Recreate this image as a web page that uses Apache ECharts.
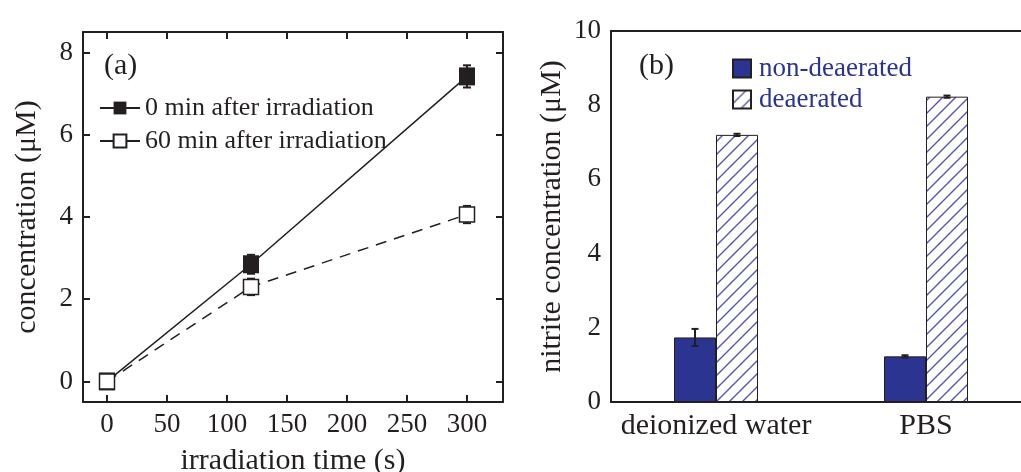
<!DOCTYPE html>
<html><head><meta charset="utf-8">
<script src="https://cdn.jsdelivr.net/npm/echarts@6/dist/echarts.min.js"></script>
<style>html,body{margin:0;padding:0;background:#fff}#c{width:1021px;height:472px}</style>
</head><body><div id="c"></div>
<script>
// ---- data (panel a) ----
const timeX = [0, 120, 300];
const conc0min = [0, 2.85, 7.42];
const conc0minErr = [0.05, 0.23, 0.27];
const conc60min = [0, 2.30, 4.06];
const conc60minErr = [0.05, 0.2, 0.21];
const xTicksA = [0, 50, 100, 150, 200, 250, 300];
const yTicksA = [0, 2, 4, 6, 8];
// ---- data (panel b) ----
const media = ['deionized water', 'PBS'];
const nonDeaerated = [1.74, 1.23];
const nonDeaeratedErr = [0.23, 0.03];
const deaerated = [7.20, 8.23];
const deaeratedErr = [0.03, 0.03];
const yTicksB = [0, 2, 4, 6, 8, 10];

const INK = '#231f20';
const BLUE = '#2b3491';
const FONT = 'Liberation Serif';

function hatch() {
  const s = 13;
  const c = document.createElement('canvas'); c.width = s; c.height = s;
  const g = c.getContext('2d');
  g.fillStyle = '#fff'; g.fillRect(0, 0, s, s);
  g.strokeStyle = '#5356b4'; g.lineWidth = 1.4;
  g.beginPath();
  g.moveTo(-2, s + 2); g.lineTo(s + 2, -2);
  g.moveTo(-2, 2); g.lineTo(2, -2);
  g.moveTo(s - 2, s + 2); g.lineTo(s + 2, s - 2);
  g.stroke();
  return c;
}
const hatchFill = { image: hatch(), repeat: 'repeat' };

function errRender(offsetFrac, capHalf) {
  return function (params, api) {
    const x = api.value(0), lo = api.value(1), hi = api.value(2);
    const p1 = api.coord([x, lo]), p2 = api.coord([x, hi]);
    const off = offsetFrac ? api.size([1, 0])[0] * offsetFrac : 0;
    const cx = p1[0] + off;
    const style = { stroke: INK, lineWidth: 2, fill: null };
    return { type: 'group', children: [
      { type: 'line', shape: { x1: cx, y1: p1[1], x2: cx, y2: p2[1] }, style },
      { type: 'line', shape: { x1: cx - capHalf, y1: p1[1], x2: cx + capHalf, y2: p1[1] }, style },
      { type: 'line', shape: { x1: cx - capHalf, y1: p2[1], x2: cx + capHalf, y2: p2[1] }, style }
    ]};
  };
}

const axisLine = { show: true, onZero: false, lineStyle: { color: INK, width: 2 } };
const tickStyle = { color: INK, width: 2 };
const labelBase = { color: INK, fontFamily: FONT, fontSize: 27 };
const nameStyle = { color: INK, fontFamily: FONT, fontSize: 30 };

const chart = echarts.init(document.getElementById('c'), null, { renderer: 'canvas' });
chart.setOption({
  animation: false,
  backgroundColor: '#fff',
  grid: [
    { left: 83, top: 32, width: 420, height: 370, containLabel: false, outerBoundsMode: 'none' },
    { left: 611, top: 31, width: 420, height: 371, containLabel: false, outerBoundsMode: 'none' }
  ],
  xAxis: [
    { type: 'value', gridIndex: 0, min: -20, max: 330, position: 'bottom',
      axisLine, splitLine: { show: false },
      axisTick: { inside: true, length: 7, lineStyle: tickStyle, customValues: xTicksA },
      axisLabel: Object.assign({ margin: 9, customValues: xTicksA }, labelBase),
      name: 'irradiation time (s)', nameLocation: 'middle', nameGap: 44, nameTextStyle: nameStyle },
    { type: 'value', gridIndex: 0, min: -20, max: 330, position: 'top',
      axisLine, splitLine: { show: false },
      axisTick: { inside: true, length: 7, lineStyle: tickStyle, customValues: xTicksA },
      axisLabel: { show: false } },
    { type: 'category', gridIndex: 1, data: media, position: 'bottom',
      axisLine, axisTick: { show: false }, splitLine: { show: false },
      axisLabel: Object.assign({ margin: 9, interval: 0, hideOverlap: false }, labelBase, { fontSize: 30 }) },
    { type: 'category', gridIndex: 1, data: media, position: 'top',
      axisLine, axisTick: { show: false }, axisLabel: { show: false }, splitLine: { show: false } }
  ],
  yAxis: [
    { type: 'value', gridIndex: 0, min: -0.5, max: 8.5, position: 'left',
      axisLine, splitLine: { show: false },
      axisTick: { inside: true, length: 7, lineStyle: tickStyle, customValues: yTicksA },
      axisLabel: Object.assign({ margin: 10, customValues: yTicksA }, labelBase),
      name: 'concentration (\u03bcM)', nameLocation: 'middle', nameGap: 41, nameTextStyle: nameStyle },
    { type: 'value', gridIndex: 0, min: -0.5, max: 8.5, position: 'right',
      axisLine, splitLine: { show: false },
      axisTick: { inside: true, length: 7, lineStyle: tickStyle, customValues: yTicksA },
      axisLabel: { show: false } },
    { type: 'value', gridIndex: 1, min: 0, max: 10, interval: 2, position: 'left',
      axisLine, splitLine: { show: false },
      axisTick: { inside: true, length: 7, lineStyle: tickStyle },
      axisLabel: Object.assign({ margin: 10, customValues: yTicksB }, labelBase),
      name: 'nitrite concentration (\u03bcM)', nameLocation: 'middle', nameGap: 44, nameTextStyle: nameStyle }
  ],
  legend: [
    { data: ['0 min after irradiation'], left: 94, top: 90, orient: 'vertical',
      itemWidth: 40, itemHeight: 16, itemGap: 0,
      textStyle: { color: INK, fontFamily: FONT, fontSize: 26, lineHeight: 26 } },
    { data: ['60 min after irradiation'], left: 94, top: 123, orient: 'vertical',
      itemWidth: 40, itemHeight: 16, itemGap: 0, lineStyle: { type: 'solid' },
      textStyle: { color: INK, fontFamily: FONT, fontSize: 26, lineHeight: 26 } },
    { data: ['non-deaerated', 'deaerated'], left: 727, top: 50, orient: 'vertical', icon: 'rect',
      itemWidth: 18, itemHeight: 18, itemGap: 4,
      textStyle: { color: BLUE, fontFamily: FONT, fontSize: 27, lineHeight: 26, padding: [0, 0, 0, 3] } }
  ],
  graphic: [
    { type: 'text', left: 104, top: 51, style: { text: '(a)', font: '30px "Liberation Serif"', fill: INK } },
    { type: 'text', left: 639, top: 51, style: { text: '(b)', font: '30px "Liberation Serif"', fill: INK } }
  ],
  series: [
    { type: 'custom', name: 'err0', xAxisIndex: 0, yAxisIndex: 0, z: 1,
      renderItem: errRender(0, 4),
      data: timeX.map((t, i) => [t, conc0min[i] - conc0minErr[i], conc0min[i] + conc0minErr[i]]) },
    { type: 'custom', name: 'err60', xAxisIndex: 0, yAxisIndex: 0, z: 1,
      renderItem: errRender(0, 4),
      data: timeX.map((t, i) => [t, conc60min[i] - conc60minErr[i], conc60min[i] + conc60minErr[i]]) },
    { type: 'line', name: '0 min after irradiation', xAxisIndex: 0, yAxisIndex: 0, z: 3,
      data: timeX.map((t, i) => [t, conc0min[i]]),
      symbol: 'rect', symbolSize: [16, 18],
      lineStyle: { color: INK, width: 1.5, type: 'solid' },
      itemStyle: { color: INK, borderColor: INK, borderWidth: 0 } },
    { type: 'line', name: '60 min after irradiation', xAxisIndex: 0, yAxisIndex: 0, z: 4,
      data: timeX.map((t, i) => [t, conc60min[i]]),
      symbol: 'rect', symbolSize: 15, showAllSymbol: true,
      lineStyle: { color: INK, width: 1.5, type: [11, 8] },
      itemStyle: { color: '#fff', borderColor: INK, borderWidth: 1.5 } },
    { type: 'bar', name: 'non-deaerated', xAxisIndex: 2, yAxisIndex: 2,
      data: nonDeaerated, barWidth: '20%', barGap: '0%',
      itemStyle: { color: BLUE, borderColor: INK, borderWidth: 1 } },
    { type: 'bar', name: 'deaerated', xAxisIndex: 2, yAxisIndex: 2,
      data: deaerated, barWidth: '20%', barGap: '0%',
      itemStyle: { color: hatchFill, borderColor: INK, borderWidth: 1 } },
    { type: 'custom', name: 'errB1', xAxisIndex: 2, yAxisIndex: 2, z: 5,
      renderItem: errRender(-0.1, 3.5),
      data: media.map((m, i) => [i, nonDeaerated[i] - nonDeaeratedErr[i], nonDeaerated[i] + nonDeaeratedErr[i]]) },
    { type: 'custom', name: 'errB2', xAxisIndex: 2, yAxisIndex: 2, z: 5,
      renderItem: errRender(0.1, 3.5),
      data: media.map((m, i) => [i, deaerated[i] - deaeratedErr[i], deaerated[i] + deaeratedErr[i]]) }
  ]
});
</script></body></html>
